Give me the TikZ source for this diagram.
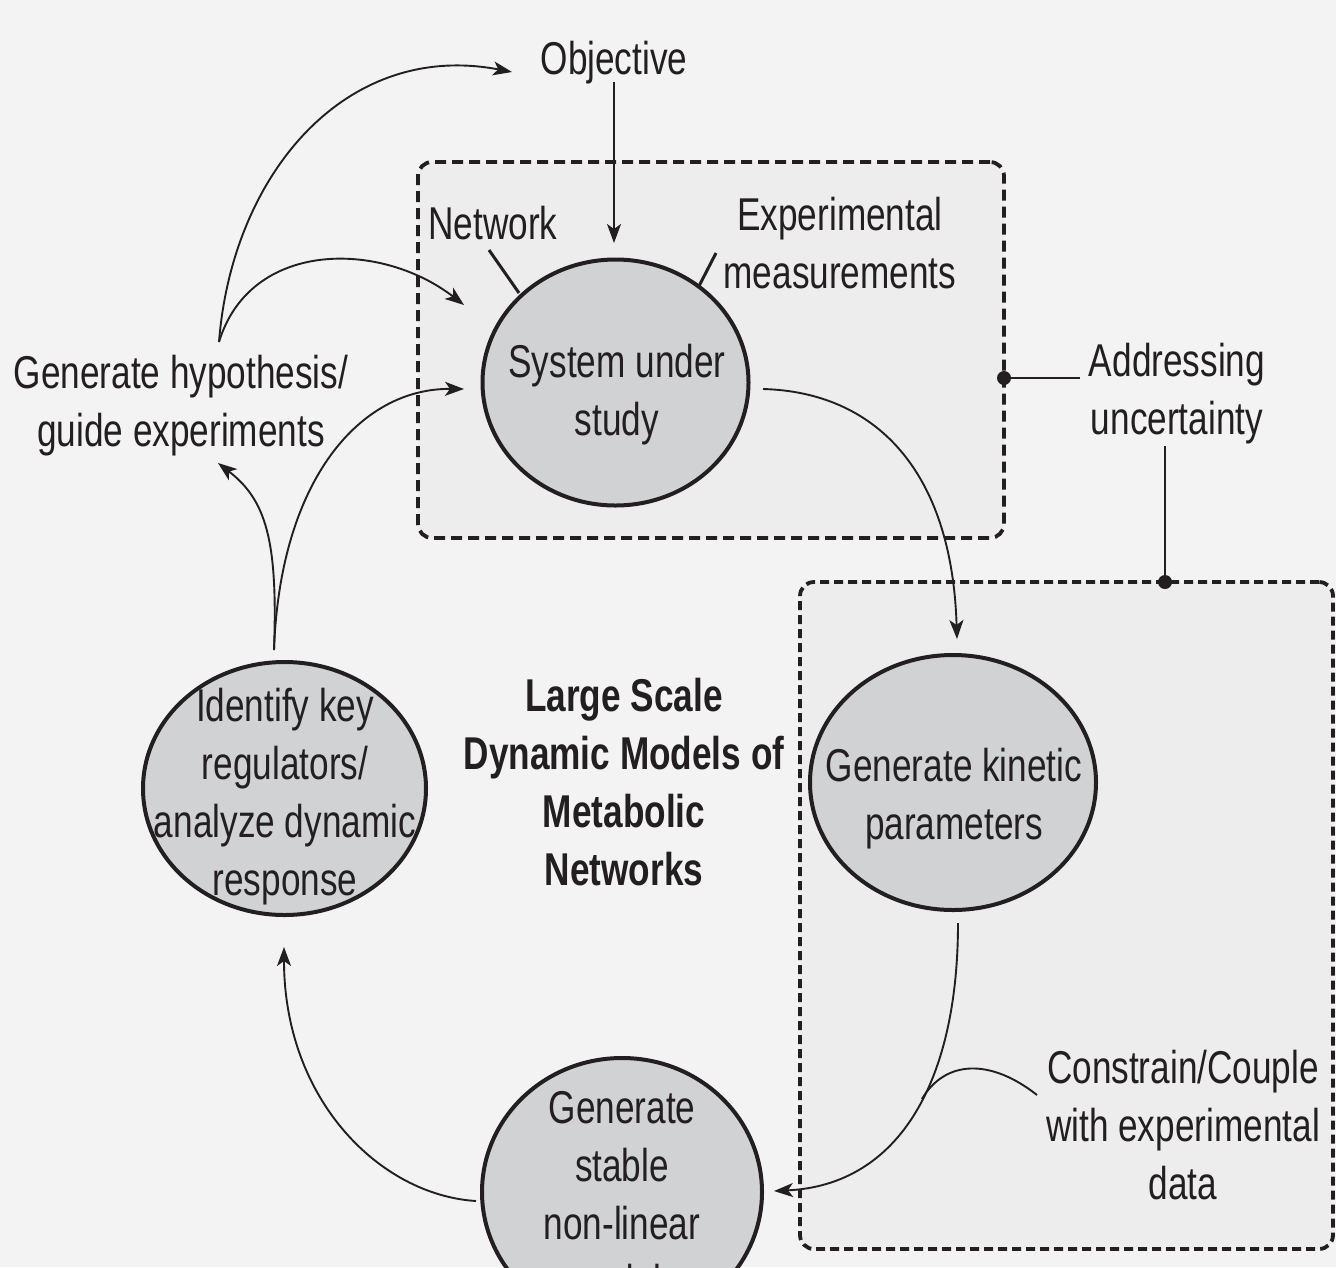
\documentclass[tikz,border=0pt]{standalone}
\usepackage{fontspec}
\setmainfont{Liberation Sans}[FakeStretch=0.765]
\usetikzlibrary{shapes.geometric,arrows.meta}
\definecolor{bgc}{HTML}{F3F3F3}
\definecolor{boxc}{HTML}{EDEDED}
\definecolor{ellc}{HTML}{D1D2D4}
\definecolor{ink}{HTML}{231F20}
\begin{document}
\begin{tikzpicture}[x=1pt,y=-1pt,
  txt/.style={text=ink, font=\fontsize{46}{58}\selectfont, align=center, inner sep=0pt, anchor=base},
  btxt/.style={txt, font=\fontsize{46}{58}\selectfont\bfseries},
  ell/.style={ellipse, draw=ink, line width=4pt, fill=ellc, inner sep=0pt},
  dbox/.style={draw=ink, line width=3.8pt, dash pattern=on 10pt off 6pt, rounded corners=14pt, fill=boxc, inner sep=0pt},
  arr/.style={draw=ink, line width=1.9pt, -{Stealth[length=19pt,width=14pt,inset=5pt]}},
  con/.style={draw=ink, line width=1.9pt},
  tick/.style={draw=ink, line width=3pt},
  dot/.style={circle, fill=ink, inner sep=0pt, minimum size=14pt}
]
\useasboundingbox (0,0) rectangle (1336,1267);
\fill[bgc] (0,0) rectangle (1336,1267);
\clip (0,0) rectangle (1336,1267);

% dashed boxes
\node[dbox, minimum width=586pt, minimum height=376pt, dash pattern=on 11pt off 6pt] (box1) at (711,350) {};
\node[dbox, minimum width=533pt, minimum height=667pt, dash pattern=on 9pt off 5pt] (box2) at (1066.5,915.5) {};

% ellipses
\node[ell, minimum width=266pt, minimum height=246pt] (sys) at (615.5,382.5) {};
\node[ell, minimum width=286pt, minimum height=255pt] (kin) at (953,782.5) {};
\node[ell, minimum width=283pt, minimum height=253pt] (idk) at (284.5,788.5) {};
\node[ell, minimum width=280pt, minimum height=268pt] (stab) at (622,1192) {};

% text labels (anchor = baseline of last line)
\node[txt] (obj) at (614,74) {Objective};
\node[txt] (net) at (493,239) {Network};
\node[txt] (exp) at (840,288) {Experimental\\measurements};
\node[txt] (hyp) at (181,446) {Generate hypothesis/\\guide experiments};
\node[txt] (unc) at (1177,434) {Addressing\\uncertainty};
\node[btxt] (title) at (624,885) {Large Scale\\Dynamic Models of\\Metabolic\\Networks};
\node[txt] (con) at (1183,1199) {Constrain/Couple\\with experimental\\data};
\node[txt] (syst) at (617,435) {System under\\study};
\node[txt] (kint) at (954,839) {Generate kinetic\\parameters};
\node[txt] (idkt) at (285,895) {Identify key\\regulators/\\analyze dynamic\\response};
\node[txt] (stabt) at (622,1297) {Generate\\stable\\non-linear\\models};

% free-end coordinates
\coordinate (hypT) at (219,342);
\coordinate (objL) at (512,72);
\coordinate (sysUL) at (464,305);
\coordinate (sysL) at (464,389);
\coordinate (idkT) at (274,650);
\coordinate (hypB) at (218,463);
\coordinate (sysR) at (763,389);
\coordinate (kinT) at (957,639);
\coordinate (kinB) at (958,923);
\coordinate (stabR) at (774,1191);
\coordinate (stabL) at (476,1201);
\coordinate (idkB) at (284,947);
\coordinate (conL) at (1037,1095);
\coordinate (objB) at (614,82);
\coordinate (sysT) at (614,243);
\coordinate (netA) at (489,250);
\coordinate (netB) at (519,293);
\coordinate (expA) at (716,253);
\coordinate (expB) at (698,288);
\coordinate (uncL) at (1080,378);
\coordinate (uncB) at (1165,446);

% connectors
\draw[arr] (objB) -- (sysT);
\draw[tick] (netA) -- (netB);
\draw[tick] (expA) -- (expB);
\draw[arr] (hypT) .. controls (232,175) and (345,40) .. (objL);
\draw[arr] (hypT) .. controls (250,240) and (380,240) .. (sysUL);
\draw[arr] (idkT) .. controls (278,540) and (266,500) .. (hypB);
\draw[arr] (idkT) .. controls (280,480) and (360,388) .. (sysL);
\draw[arr] (sysR) .. controls (875,392) and (952,470) .. (kinT);
\draw[arr] (kinB) .. controls (958,1080) and (900,1185) .. (stabR) coordinate[pos=0.45] (join);
\draw[con] (conL) .. controls (990,1058) and (945,1060) .. (join);
\draw[arr] (stabL) .. controls (380,1195) and (284,1100) .. (idkB);

% uncertainty markers
\node[dot] (d1) at (1004,378) {};
\node[dot] (d2) at (1165,582) {};
\draw[con] (d1) -- (uncL);
\draw[con] (d2) -- (uncB);
\end{tikzpicture}
\end{document}
